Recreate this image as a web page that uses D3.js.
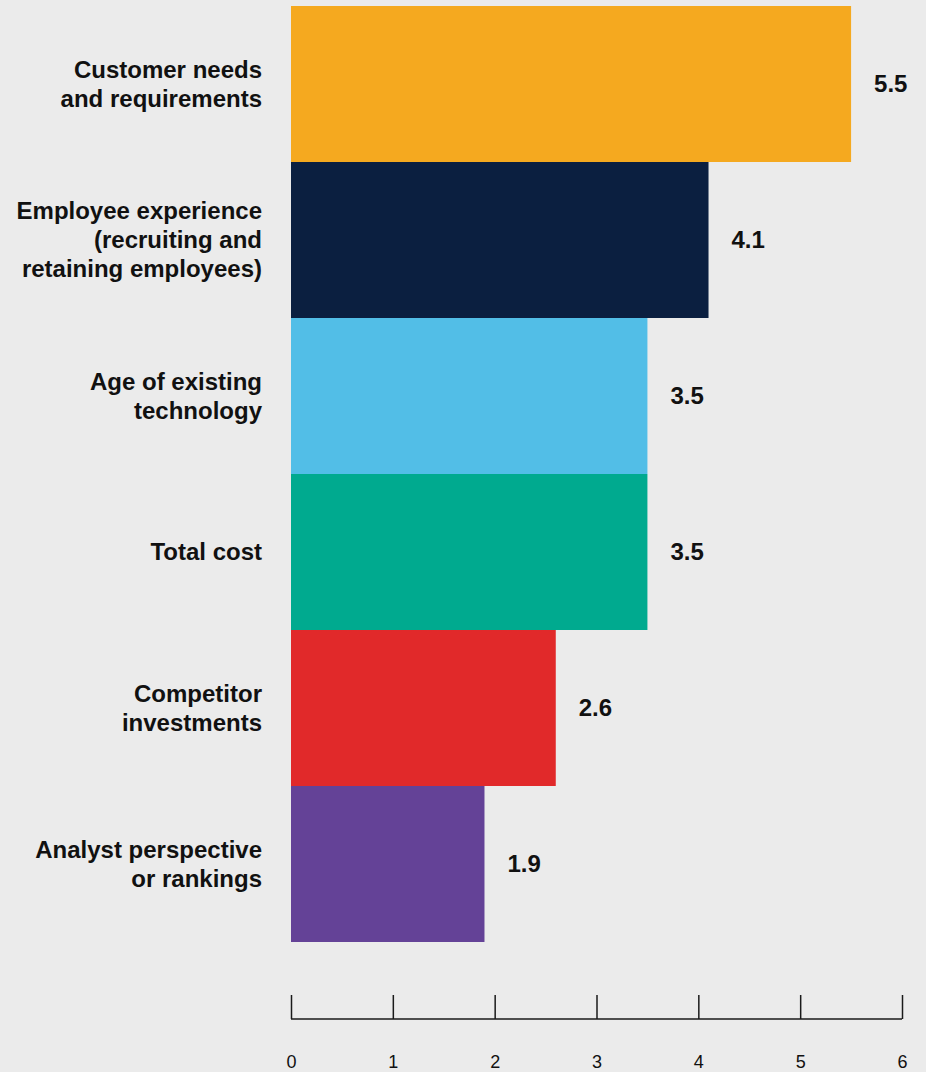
<!DOCTYPE html>
<html>
<head>
<meta charset="utf-8">
<script src="https://cdn.jsdelivr.net/npm/d3@7"></script>
<style>
  html, body { margin: 0; padding: 0; background: #ebebeb; }
  svg { display: block; }
  svg text { font-family: "Liberation Sans", Arial, Helvetica, sans-serif; }
</style>
</head>
<body>
<div id="chart"></div>
<script>
// Factors ranked by weighted score
const categories = [
  ["Customer needs", "and requirements"],
  ["Employee experience", "(recruiting and", "retaining employees)"],
  ["Age of existing", "technology"],
  ["Total cost"],
  ["Competitor", "investments"],
  ["Analyst perspective", "or rankings"]
];
const values = [5.5, 4.1, 3.5, 3.5, 2.6, 1.9];
const colors = ["#f5a91f", "#0b1f40", "#52bee7", "#00aa8f", "#e1292a", "#644297"];
const tickValues = [0, 1, 2, 3, 4, 5, 6];

const width = 926, height = 1072;
const margin = { left: 291, right: 24, top: 6 };
const plotBottom = 942;
const axisY = 1019;

const svg = d3.select("#chart").append("svg")
  .attr("width", width)
  .attr("height", height);

svg.append("rect").attr("width", width).attr("height", height).attr("fill", "#ebebeb");

const x = d3.scaleLinear().domain([0, 6]).range([margin.left, width - margin.right]);
const y = d3.scaleBand().domain(d3.range(categories.length)).range([margin.top, plotBottom]).padding(0);

// Bars
svg.append("g").selectAll("rect")
  .data(values)
  .join("rect")
  .attr("x", x(0))
  .attr("y", (d, i) => y(i))
  .attr("width", d => x(d) - x(0))
  .attr("height", y.bandwidth())
  .attr("fill", (d, i) => colors[i]);

// Value labels
svg.append("g").selectAll("text")
  .data(values)
  .join("text")
  .attr("x", d => x(d) + 23)
  .attr("y", (d, i) => y(i) + y.bandwidth() / 2)
  .attr("dy", "0.35em")
  .attr("font-weight", "bold")
  .attr("font-size", 24)
  .attr("fill", "#111")
  .text(d => d.toFixed(1));

// Category labels (multi-line, right aligned)
const lineH = 29;
const labelG = svg.append("g")
  .attr("font-weight", "bold")
  .attr("font-size", 24)
  .attr("fill", "#111")
  .attr("text-anchor", "end");

categories.forEach((lines, i) => {
  const cy = y(i) + y.bandwidth() / 2;
  const t = labelG.append("text").attr("x", 262);
  lines.forEach((ln, j) => {
    t.append("tspan")
      .attr("x", 262)
      .attr("y", cy + (j - (lines.length - 1) / 2) * lineH)
      .attr("dy", "0.35em")
      .text(ln);
  });
});

// Axis
const axis = d3.axisTop(x).tickValues(tickValues).tickSize(24).tickFormat(d3.format("d"));
const axG = svg.append("g").attr("transform", `translate(0,${axisY})`).call(axis);
axG.attr("font-family", null).attr("font-size", null);
axG.select(".domain").attr("stroke", "#1a1a1a").attr("stroke-width", 1.5)
  .attr("d", `M${x(0)},0H${x(6)}`);
axG.selectAll(".tick line").attr("stroke", "#1a1a1a").attr("stroke-width", 1.5);
axG.selectAll(".tick text")
  .attr("y", 49)
  .attr("dy", 0)
  .style("font-size", "18px")
  .attr("fill", "#111");
</script>
</body>
</html>
